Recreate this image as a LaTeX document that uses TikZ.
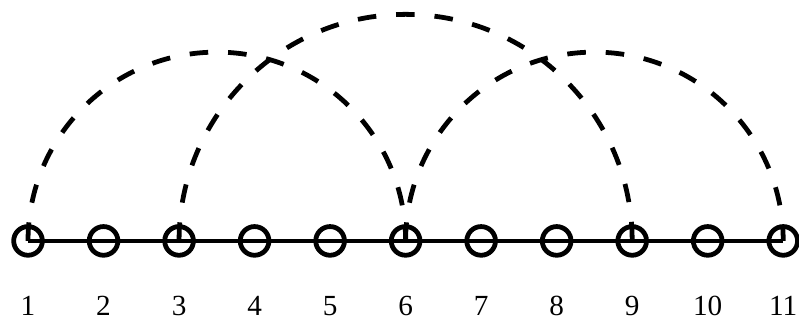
\documentclass[tikz,border=0pt]{standalone}
\usepackage{fontspec}
\setmainfont{Liberation Serif}
\usetikzlibrary{positioning}
\tikzset{
  vtx/.style={circle,draw,line width=3.6pt,minimum size=0.76cm,inner sep=0pt},
  lbl/.style={font=\fontsize{22}{26}\selectfont,anchor=base},
  jump/.style={line width=3.6pt,dash pattern=on 14pt off 15pt}
}

\begin{document}
\begin{tikzpicture}
\useasboundingbox (0,0) rectangle (21.16,8.56);
\foreach \i in {1,...,11}{
  \coordinate (n\i) at ({0.742+2*(\i-1)},2.18);
  \node[lbl] (l\i) at ({0.742+2*(\i-1)},0.21) {\i};
}
\draw[line width=3.3pt] (n1)--(n11);
\foreach \i in {1,...,11} \node[vtx] (v\i) at (n\i) {};
% long jumps
\draw[jump] (n1) arc[start angle=180,end angle=0,radius=5cm];
\draw[jump] (n3) arc[start angle=180,end angle=0,radius=6cm];
\draw[jump] (n6) arc[start angle=180,end angle=0,radius=5cm];
\end{tikzpicture}
\end{document}
